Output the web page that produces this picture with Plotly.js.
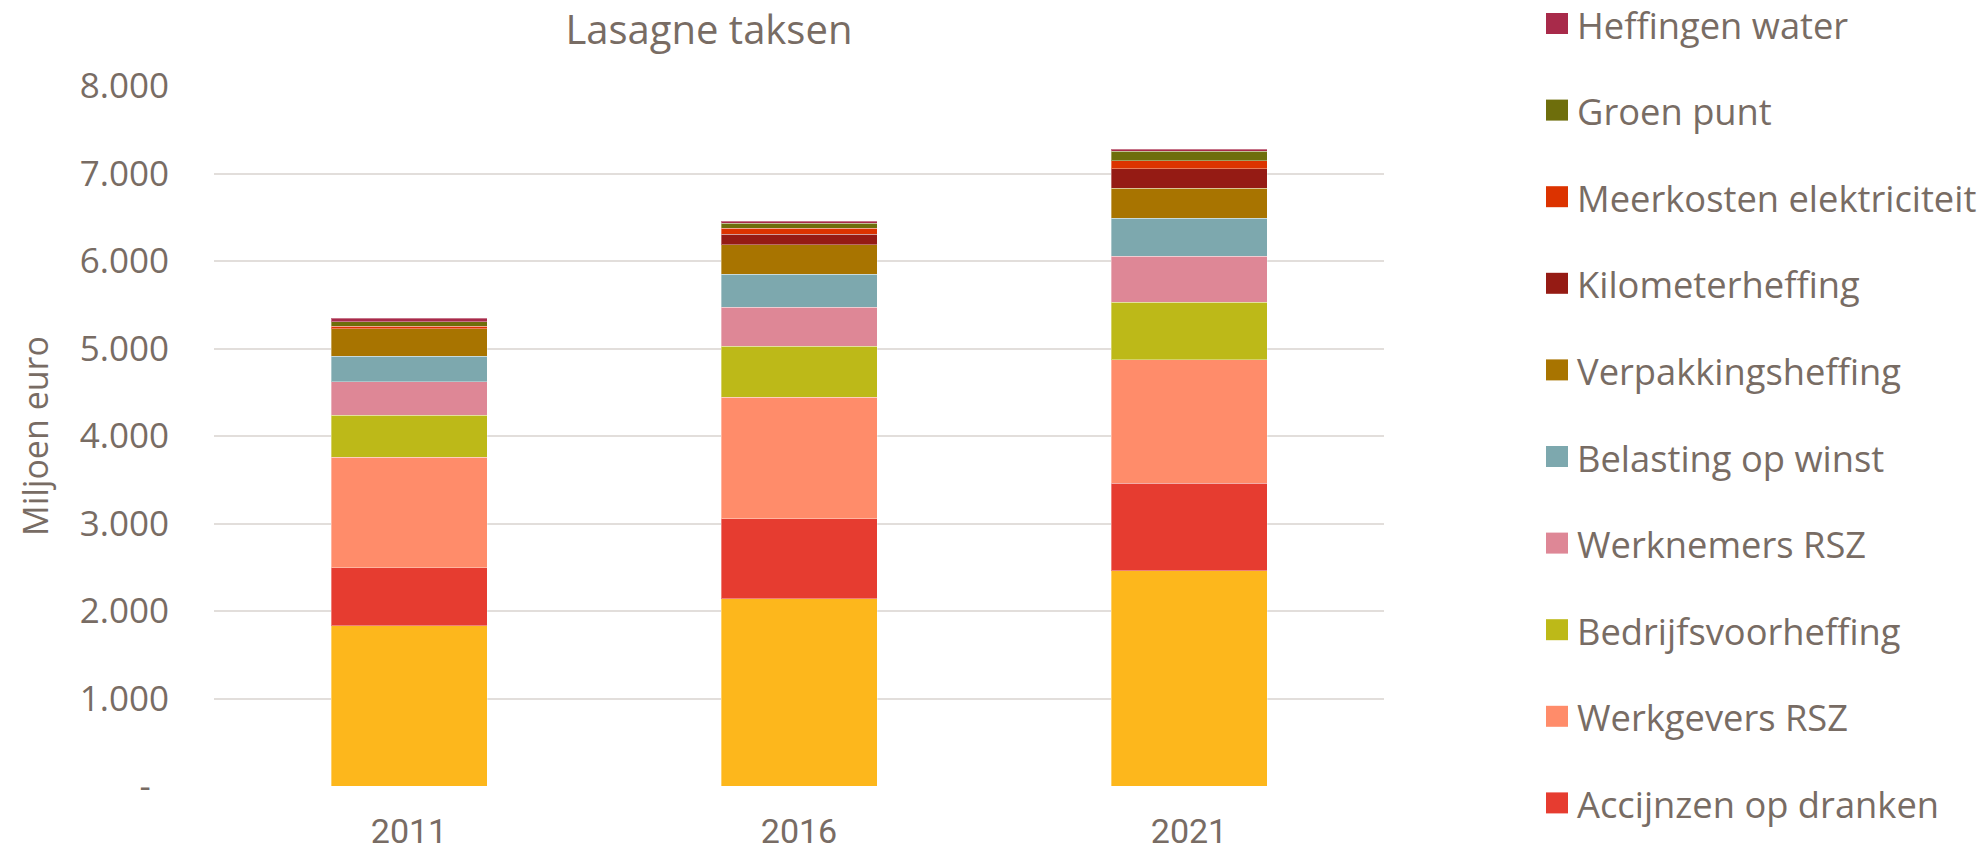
<!DOCTYPE html>
<html>
<head>
<meta charset="utf-8">
<script src="https://cdn.plot.ly/plotly-3.0.1.min.js"></script>
<style>html,body{margin:0;padding:0;background:#fff;}#chart{width:1982px;height:855px;}</style>
</head>
<body>
<div id="chart"></div>
<script>
const years = ['2011', '2016', '2021'];
const btw = [1830, 2140, 2460];
const accijnzenDranken = [665, 914, 998];
const werkgeversRSZ = [1265, 1391, 1414];
const bedrijfsvoorheffing = [476, 579, 659];
const werknemersRSZ = [385, 445, 525];
const belastingWinst = [293, 378, 431];
const verpakkingsheffing = [313, 339, 343];
const kilometerheffing = [0, 122, 224];
const meerkostenElektriciteit = [25, 65, 92];
const groenPunt = [55, 56, 106];
const heffingenWater = [40, 27, 27];

const yTickVals = [0, 1000, 2000, 3000, 4000, 5000, 6000, 7000, 8000];
const yTickText = ['-\u00a0\u00a0', '1.000', '2.000', '3.000', '4.000', '5.000', '6.000', '7.000', '8.000'];

const seriesNames = ['Btw', 'Accijnzen op dranken', 'Werkgevers RSZ', 'Bedrijfsvoorheffing', 'Werknemers RSZ',
  'Belasting op winst', 'Verpakkingsheffing', 'Kilometerheffing', 'Meerkosten elektriciteit', 'Groen punt', 'Heffingen water'];
const seriesValues = [btw, accijnzenDranken, werkgeversRSZ, bedrijfsvoorheffing, werknemersRSZ,
  belastingWinst, verpakkingsheffing, kilometerheffing, meerkostenElektriciteit, groenPunt, heffingenWater];
const seriesColors = ['#FDB71C', '#E63C30', '#FF8C6A', '#BDB918', '#DE8796',
  '#7DA8AE', '#A87400', '#951B14', '#DC3300', '#6E6E0C', '#A82A4A'];
// The bottom legend entry (Btw) falls below the visible area in the reference.
const legendVisible = [false, true, true, true, true, true, true, true, true, true, true];

const textColor = '#786c64';
const mainFont = 'Open Sans, Lato, sans-serif';

const traces = seriesNames.map((name, i) => ({
  type: 'bar',
  name: name,
  x: years,
  y: seriesValues[i],
  showlegend: false,
  marker: {color: seriesColors[i], line: {color: 'rgba(255,255,255,0.35)', width: 1}},
  hovertemplate: '%{x}: %{y}<extra>' + name + '</extra>'
}));

// Legend drawn beside the plot (paper coordinates), top entry = last series.
const W = 1982, H = 855;
const mL = 214, mR = 598, mT = 86, mB = 69;
const plotW = W - mL - mR, plotH = H - mT - mB;
const px2x = p => (p - mL) / plotW;
const py2y = p => (H - mB - p) / plotH;
const legendTop = 23.5, legendStep = 86.6;
const shapes = [];
const annotations = [];
for (let k = 0; k < seriesNames.length; k++) {
  const i = seriesNames.length - 1 - k;
  if (!legendVisible[i]) continue;
  const cy = legendTop + k * legendStep;
  shapes.push({
    type: 'rect', xref: 'paper', yref: 'paper', layer: 'above',
    x0: px2x(1546), x1: px2x(1568), y0: py2y(cy + 10.5), y1: py2y(cy - 10.5),
    fillcolor: seriesColors[i], line: {width: 0}
  });
  annotations.push({
    xref: 'paper', yref: 'paper', x: px2x(1575), y: py2y(cy + 1),
    xanchor: 'left', yanchor: 'middle', showarrow: false,
    text: seriesNames[i],
    font: {family: mainFont, size: 36.3, color: textColor}
  });
}

const layout = {
  width: W,
  height: H,
  barmode: 'stack',
  bargap: 0.6,
  paper_bgcolor: '#ffffff',
  plot_bgcolor: '#ffffff',
  margin: {l: mL, r: mR, t: mT, b: mB, pad: 0},
  font: {family: mainFont, color: textColor, size: 35},
  title: {
    text: 'Lasagne taksen',
    font: {family: mainFont, size: 40, color: textColor},
    x: 0.423, xref: 'paper', xanchor: 'center',
    y: 0.965, yref: 'container', yanchor: 'middle'
  },
  xaxis: {
    type: 'category',
    showline: false,
    showgrid: false,
    ticks: '',
    tickfont: {family: 'Roboto, sans-serif', size: 34, color: textColor},
    ticklabelstandoff: 22
  },
  yaxis: {
    range: [0, 8000],
    tickvals: yTickVals,
    ticktext: yTickText,
    showgrid: true,
    gridcolor: '#e2dedb',
    gridwidth: 2,
    zeroline: false,
    showline: false,
    ticks: '',
    tickfont: {family: mainFont, size: 35, color: textColor},
    ticklabelstandoff: 44,
    title: {
      text: 'Miljoen euro',
      font: {family: mainFont, size: 34, color: textColor},
      standoff: 20
    }
  },
  shapes: shapes,
  annotations: annotations,
  showlegend: false
};

Plotly.newPlot('chart', traces, layout, {displayModeBar: false, staticPlot: true});
</script>
</body>
</html>
